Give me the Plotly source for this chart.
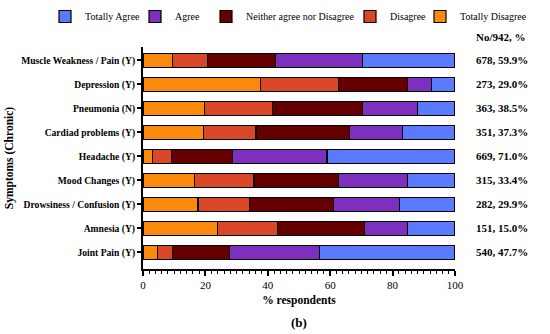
import plotly.graph_objects as go

symptoms = ["Muscle Weakness / Pain (Y)", "Depression (Y)", "Pneumonia (N)", "Cardiad problems (Y)",
            "Headache (Y)", "Mood Changes (Y)", "Drowsiness / Confusion (Y)", "Amnesia (Y)", "Joint Pain (Y)"]
totally_disagree = [9.5, 37.7, 19.6, 19.5, 3.0, 16.6, 17.6, 24.0, 4.7]
disagree = [11.1, 24.9, 21.9, 16.7, 6.1, 19.0, 16.6, 19.0, 4.8]
neither = [21.9, 22.2, 28.8, 30.0, 19.5, 27.0, 26.8, 27.9, 18.1]
agree = [27.8, 7.7, 17.6, 17.0, 30.4, 22.2, 21.1, 13.9, 28.9]
totally_agree = [29.7, 7.5, 12.1, 16.8, 41.0, 15.2, 17.9, 15.2, 43.5]
counts = ["678, 59.9%", "273, 29.0%", "363, 38.5%", "351, 37.3%", "669, 71.0%",
          "315, 33.4%", "282, 29.9%", "151, 15.0%", "540, 47.7%"]

series = [
    ("Totally Disagree", totally_disagree, "#F98A0B", "legend5", 436),
    ("Disagree", disagree, "#DA4727", "legend4", 366),
    ("Neither agree nor Disagree", neither, "#660000", "legend3", 222),
    ("Agree", agree, "#7D30BE", "legend2", 151),
    ("Totally Agree", totally_agree, "#5B79FF", "legend", 61),
]

FONT = "Liberation Serif"
W, H = 550, 334
fig = go.Figure()
legends = {}
for name, vals, col, lg, px in series:
    fig.add_trace(go.Bar(
        y=symptoms, x=vals, name=name, orientation="h", legend=lg,
        marker=dict(color=col, line=dict(color="black", width=1.2)),
    ))
    legends[lg] = dict(orientation="h", xref="container", yref="container", visible=True,
                       x=(px - 16) / W, y=1 - 2 / H, xanchor="left", yanchor="top",
                       font=dict(family=FONT, size=10, color="black"), itemwidth=30,
                       bgcolor="rgba(0,0,0,0)")

for s, c in zip(symptoms, counts):
    fig.add_annotation(x=1.06, xref="paper", y=s, yref="y", text="<b>" + c + "</b>",
                       showarrow=False, xanchor="left", font=dict(family=FONT, size=11, color="black"))
fig.add_annotation(x=1.06, xref="paper", y=1.0, yref="paper", text="<b>No/942, %</b>",
                   showarrow=False, xanchor="left", yanchor="bottom", yshift=2,
                   font=dict(family=FONT, size=11, color="black"))
fig.add_annotation(x=0.5, xref="paper", y=-0.239, yref="paper", yanchor="middle",
                   text="<b>(b)</b>", showarrow=False, font=dict(family=FONT, size=13, color="black"))

fig.update_layout(
    barmode="stack",
    bargap=0.42,
    showlegend=True,
    width=W, height=H,
    margin=dict(l=143, r=95, t=47, b=65, autoexpand=False),
    paper_bgcolor="white", plot_bgcolor="white",
    font=dict(family=FONT, color="black"),
    xaxis=dict(range=[0, 100], tickvals=[0, 20, 40, 60, 80, 100], showgrid=False, zeroline=False,
               showline=True, linecolor="black", linewidth=2, ticks="outside", ticklen=5, tickwidth=1.5,
               tickcolor="black", tickfont=dict(family=FONT, size=11),
               tickprefix="<b>", ticksuffix="</b>",
               minor=dict(dtick=2, ticks="outside", ticklen=3, tickwidth=1, tickcolor="black"),
               title=dict(text="<b>% respondents</b>", font=dict(family=FONT, size=11.5), standoff=6)),
    yaxis=dict(range=[8.7, -0.55], showgrid=False, zeroline=False, showline=True, linecolor="black",
               linewidth=2, ticks="outside", ticklen=4, tickwidth=1.5, tickcolor="black",
               tickfont=dict(family=FONT, size=9.6), tickprefix="<b>", ticksuffix="</b>",
               title=dict(text="<b>Symptoms (Chronic)</b>", font=dict(family=FONT, size=11.5), standoff=5)),
)
fig.update_layout(**legends)
fig.write_html("out.html", config={"displayModeBar": False},
               post_script="document.body.style.margin='0';")
